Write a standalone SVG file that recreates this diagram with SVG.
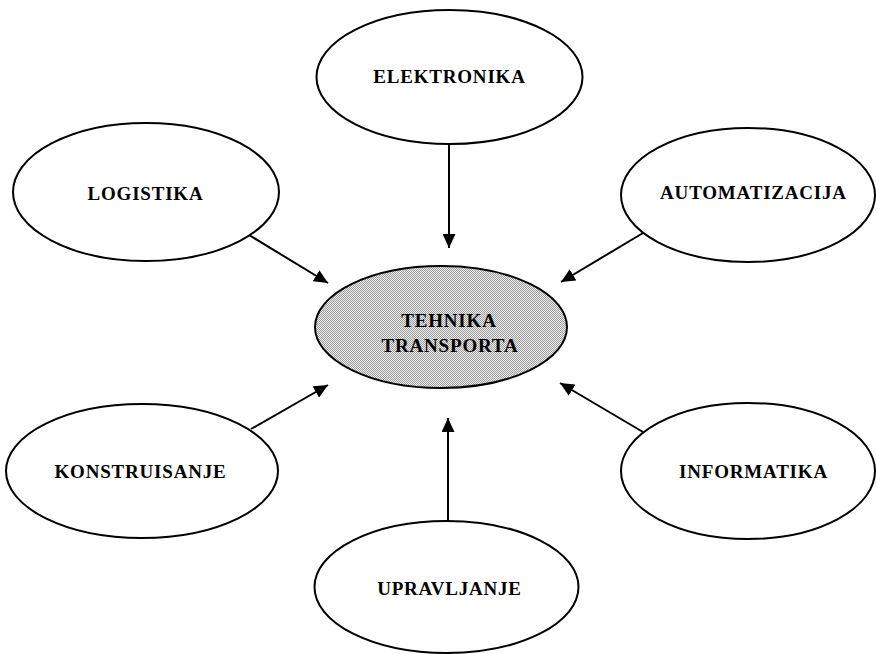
<svg xmlns="http://www.w3.org/2000/svg" width="876" height="654" viewBox="0 0 876 654">
<style>
.node{fill:#fff;stroke:#000;stroke-width:2}
.lbl{font-family:"Liberation Serif","Times New Roman",serif;font-weight:bold;font-size:19px;letter-spacing:0.8px;text-anchor:middle;fill:#000}
.conn line{stroke:#000;stroke-width:2;fill:none;marker-end:url(#ah)}
</style>
<defs>
<marker id="ah" markerUnits="userSpaceOnUse" markerWidth="15" markerHeight="13" refX="14" refY="6.5" orient="auto">
<path d="M0,0 L14,6.5 L0,13 z" fill="#000"/>
</marker>
<pattern id="dots" width="2" height="2" patternUnits="userSpaceOnUse">
<rect width="2" height="2" fill="#f0f0f0"/>
<rect width="1" height="1" fill="#9a9a9a"/>
<rect x="1" y="1" width="1" height="1" fill="#9a9a9a"/>
</pattern>
</defs>
<rect width="876" height="654" fill="#fff"/>
<g id="connectors" class="conn">
<line x1="449" y1="144" x2="449" y2="248"/>
<line x1="249" y1="235" x2="328" y2="283"/>
<line x1="643" y1="233" x2="561" y2="282"/>
<line x1="251" y1="429" x2="328" y2="385"/>
<line x1="643" y1="432" x2="560" y2="383"/>
<line x1="448" y1="521" x2="448" y2="418"/>
</g>
<g id="tehnika-transporta">
<ellipse cx="441" cy="327" rx="126" ry="61" fill="url(#dots)" stroke="#000" stroke-width="2"/>
<text class="lbl" x="449" y="327">TEHNIKA</text>
<text class="lbl" x="450" y="352">TRANSPORTA</text>
</g>
<g id="elektronika">
<ellipse class="node" cx="449.5" cy="77" rx="133" ry="67"/>
<text class="lbl" x="449.5" y="83">ELEKTRONIKA</text>
</g>
<g id="logistika">
<ellipse class="node" cx="146" cy="192" rx="133" ry="69"/>
<text class="lbl" x="145.5" y="200">LOGISTIKA</text>
</g>
<g id="automatizacija">
<ellipse class="node" cx="748" cy="195" rx="127" ry="67"/>
<text class="lbl" x="753.5" y="199">AUTOMATIZACIJA</text>
</g>
<g id="konstruisanje">
<ellipse class="node" cx="142" cy="471" rx="136" ry="67"/>
<text class="lbl" x="140.5" y="478">KONSTRUISANJE</text>
</g>
<g id="informatika">
<ellipse class="node" cx="748" cy="471" rx="127" ry="68"/>
<text class="lbl" x="753.5" y="478">INFORMATIKA</text>
</g>
<g id="upravljanje">
<ellipse class="node" cx="446.5" cy="587" rx="132" ry="66"/>
<text class="lbl" x="449.5" y="595">UPRAVLJANJE</text>
</g>
</svg>
